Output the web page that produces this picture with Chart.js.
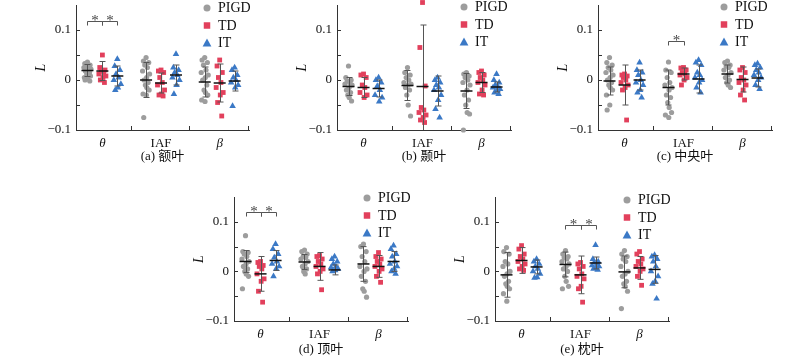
<!DOCTYPE html>
<html><head><meta charset="utf-8">
<script src="https://cdn.jsdelivr.net/npm/chart.js@4.4.1/dist/chart.umd.min.js"></script>
<style>
html,body{margin:0;padding:0;background:#fff;}
#wrap{position:relative;width:800px;height:359px;overflow:hidden;background:#fff;}
canvas{position:absolute;}
</style></head><body><div id="wrap">
<canvas id="ca"></canvas><canvas id="cb"></canvas><canvas id="cc"></canvas><canvas id="cd"></canvas><canvas id="ce"></canvas>
</div>
<script>
// ---------- DATA ----------
const bands = ['θ', 'IAF', 'β'];
const groups = ['PIGD', 'TD', 'IT'];
const captions = ['(a) 额叶', '(b) 颞叶', '(c) 中央叶', '(d) 顶叶', '(e) 枕叶'];
const yTickValues = [-0.1, 0, 0.1];
const yTickLabels = ['−0.1', '0', '0.1'];

// (a) frontal: [θ, IAF, β]
const frontal_PIGD = [
  [0.036, 0.033, 0.030, 0.028, 0.025, 0.025, 0.022, 0.020, 0.018, 0.015, 0.012, 0.010, 0.008, 0.005, 0.002, 0.000, -0.002],
  [0.045, 0.038, 0.035, 0.030, 0.025, 0.018, 0.012, 0.005, 0.000, -0.005, -0.010, -0.015, -0.020, -0.028, -0.030, -0.075],
  [0.045, 0.040, 0.035, 0.030, 0.020, 0.015, 0.010, 0.005, 0.000, -0.010, -0.020, -0.025, -0.030, -0.040, -0.043]];
const frontal_TD = [
  [0.050, 0.025, 0.020, 0.018, 0.015, 0.012, 0.008, 0.005, 0.000, -0.005],
  [0.020, 0.018, 0.015, 0.005, -0.005, -0.010, -0.020, -0.028, -0.030, -0.032],
  [0.040, 0.028, 0.015, 0.005, -0.005, -0.015, -0.025, -0.030, -0.045, -0.072]];
const frontal_IT = [
  [0.042, 0.028, 0.020, 0.012, 0.005, 0.000, -0.008, -0.015, -0.020],
  [0.052, 0.025, 0.020, 0.015, 0.010, 0.005, 0.000, -0.010, -0.028],
  [0.025, 0.020, 0.010, 0.005, 0.000, -0.005, -0.010, -0.015, -0.052]];
const frontal_mean = [[0.019, 0.000, -0.004], [0.018, -0.006, -0.006], [0.008, 0.010, -0.002]];
const frontal_sd = [[0.012, 0.035, 0.030], [0.019, 0.020, 0.038], [0.020, 0.020, 0.020]];
const frontal_sig = [[0, 0, 1, 0.119], [0, 1, 2, 0.119]];

// (b) temporal
const temporal_PIGD = [
  [0.028, 0.005, 0.000, -0.002, -0.005, -0.008, -0.010, -0.015, -0.020, -0.025, -0.030, -0.035, -0.042],
  [0.025, 0.015, 0.010, 0.005, 0.000, -0.005, -0.008, -0.010, -0.015, -0.020, -0.030, -0.050, -0.072],
  [0.015, 0.012, 0.008, 0.005, 0.000, -0.005, -0.010, -0.020, -0.030, -0.040, -0.050, -0.065, -0.068, -0.100]];
const temporal_TD = [
  [0.012, 0.010, 0.005, -0.010, -0.015, -0.025, -0.030, -0.035],
  [0.155, 0.065, -0.012, -0.055, -0.060, -0.065, -0.070, -0.075, -0.080, -0.085],
  [0.018, 0.015, 0.010, 0.005, 0.000, -0.005, -0.010, -0.020, -0.028, -0.030]];
const temporal_IT = [
  [0.005, 0.000, -0.005, -0.012, -0.020, -0.030, -0.035, -0.043],
  [0.005, 0.000, -0.005, -0.010, -0.015, -0.020, -0.030, -0.040, -0.058, -0.075],
  [0.012, 0.000, -0.005, -0.010, -0.013, -0.015, -0.018, -0.020, -0.025, -0.028]];
const temporal_mean = [[-0.013, -0.011, -0.022], [-0.015, -0.013, -0.005], [-0.017, -0.022, -0.014]];
const temporal_sd = [[0.018, 0.030, 0.035], [0.020, 0.123, 0.020], [0.017, 0.030, 0.010]];
const temporal_sig = [];

// (c) central
const central_PIGD = [
  [0.045, 0.035, 0.030, 0.025, 0.020, 0.015, 0.010, 0.005, 0.000, -0.005, -0.010, -0.015, -0.020, -0.030, -0.050, -0.060],
  [0.036, 0.020, 0.015, 0.005, -0.005, -0.010, -0.015, -0.020, -0.030, -0.035, -0.045, -0.055, -0.065, -0.070, -0.075],
  [0.038, 0.035, 0.030, 0.028, 0.025, 0.020, 0.015, 0.010, 0.005, 0.000, -0.005, -0.010, -0.015]];
const central_TD = [
  [0.012, 0.010, 0.008, 0.005, 0.000, -0.005, -0.010, -0.015, -0.020, -0.080],
  [0.025, 0.024, 0.020, 0.015, 0.012, 0.010, 0.005, 0.000, -0.010],
  [0.025, 0.020, 0.015, 0.005, 0.000, -0.005, -0.010, -0.020, -0.030, -0.040]];
const central_IT = [
  [0.035, 0.020, 0.015, 0.010, 0.000, -0.005, -0.010, -0.020, -0.025, -0.035],
  [0.040, 0.035, 0.030, 0.015, 0.010, 0.005, 0.000, -0.005, -0.015, -0.025],
  [0.033, 0.030, 0.025, 0.020, 0.015, 0.010, 0.005, 0.000, -0.010, -0.018]];
const central_mean = [[-0.002, -0.015, 0.012], [-0.010, 0.012, 0.001], [0.000, 0.002, 0.004]];
const central_sd = [[0.028, 0.035, 0.018], [0.040, 0.012, 0.025], [0.020, 0.028, 0.018]];
const central_sig = [[1, 0, 1, 0.078]];

// (d) parietal
const parietal_PIGD = [
  [0.072, 0.040, 0.038, 0.035, 0.030, 0.025, 0.020, 0.015, 0.010, 0.005, 0.000, -0.005, -0.010, -0.035],
  [0.043, 0.040, 0.035, 0.030, 0.028, 0.025, 0.020, 0.015, 0.010, 0.005, 0.000, -0.005],
  [0.055, 0.050, 0.040, 0.030, 0.020, 0.010, 0.005, 0.000, -0.010, -0.020, -0.035, -0.040, -0.052]];
const parietal_TD = [
  [0.020, 0.018, 0.012, 0.010, 0.005, -0.005, -0.015, -0.020, -0.040, -0.062],
  [0.032, 0.030, 0.025, 0.020, 0.015, 0.010, 0.005, 0.000, -0.005, -0.037],
  [0.038, 0.030, 0.025, 0.020, 0.015, 0.010, 0.005, 0.000, -0.010, -0.022]];
const parietal_IT = [
  [0.055, 0.045, 0.035, 0.028, 0.020, 0.015, 0.010, 0.005, -0.010],
  [0.030, 0.025, 0.020, 0.015, 0.010, 0.008, 0.005, 0.002, 0.000],
  [0.052, 0.045, 0.035, 0.030, 0.020, 0.015, 0.010, 0.005, 0.000, -0.005]];
const parietal_mean = [[0.020, 0.019, 0.015], [-0.005, 0.010, 0.010], [0.022, 0.003, 0.020]];
const parietal_sd = [[0.022, 0.015, 0.035], [0.035, 0.028, 0.022], [0.020, 0.010, 0.020]];
const parietal_sig = [[0, 0, 1, 0.120], [0, 1, 2, 0.120]];

// (e) occipital
const occipital_PIGD = [
  [0.048, 0.040, 0.035, 0.020, 0.015, 0.010, 0.000, -0.005, -0.010, -0.020, -0.025, -0.030, -0.035, -0.045, -0.060],
  [0.042, 0.035, 0.030, 0.028, 0.025, 0.020, 0.015, 0.010, 0.005, 0.000, -0.010, -0.020, -0.030, -0.035],
  [0.042, 0.035, 0.030, 0.025, 0.020, 0.010, 0.000, -0.005, -0.010, -0.020, -0.025, -0.030, -0.040, -0.075]];
const occipital_TD = [
  [0.052, 0.045, 0.035, 0.030, 0.025, 0.020, 0.015, 0.010, 0.005, 0.002],
  [0.018, 0.015, 0.010, 0.005, -0.005, -0.010, -0.015, -0.030, -0.035, -0.062],
  [0.040, 0.035, 0.025, 0.020, 0.015, 0.010, 0.005, 0.000, -0.010, -0.028]];
const occipital_IT = [
  [0.025, 0.020, 0.015, 0.010, 0.005, 0.000, -0.005, -0.012, -0.013],
  [0.053, 0.025, 0.020, 0.018, 0.015, 0.012, 0.010, 0.008, 0.005, 0.003],
  [0.033, 0.030, 0.025, 0.020, 0.010, 0.000, -0.010, -0.020, -0.025, -0.055]];
const occipital_mean = [[-0.007, 0.014, -0.001], [0.022, -0.007, 0.007], [0.009, 0.017, 0.004]];
const occipital_sd = [[0.045, 0.025, 0.032], [0.026, 0.038, 0.023], [0.014, 0.012, 0.028]];
const occipital_sig = [[1, 0, 1, 0.094], [1, 1, 2, 0.094]];

// ---------- STYLE / LAYOUT ----------
const FONT = '"Liberation Serif", "Times New Roman", "Noto Sans CJK SC", serif';
const COLORS = ['#9d9d9d', '#e2405c', '#3b79c6'];
const STYLES = ['circle', 'rect', 'triangle'];
const RADII = [2.6, 3.4, 3.8];
const OFF = [-0.255, 0, 0.255];
const JIT = [0, -0.045, 0.045, -0.022, 0.022, -0.06, 0.06, 0.01, -0.035, 0.035, -0.012, 0.012, 0.052, -0.052, 0.005, -0.04, 0.04];
const AXIS = '#333';

const layouts = [
  {id:'ca', left:0,   top:0,   w:265, h:170, l:76, r:249, t:5,  b:130, legDx:-42, legDy:3, cap:27},
  {id:'cb', left:265, top:0,   w:265, h:170, l:72, r:246, t:5,  b:130, legDx:-47, legDy:2, cap:27},
  {id:'cc', left:530, top:0,   w:270, h:170, l:68, r:242, t:5,  b:130, legDx:-48, legDy:2, cap:27},
  {id:'cd', left:170, top:180, w:260, h:179, l:64, r:238, t:17, b:141, legDx:-41, legDy:1, cap:29},
  {id:'ce', left:430, top:180, w:270, h:179, l:65, r:239, t:17, b:141, legDx:-42, legDy:3, cap:29}
];
const panelData = [
  {values:[frontal_PIGD, frontal_TD, frontal_IT], mean:frontal_mean, sd:frontal_sd, sig:frontal_sig},
  {values:[temporal_PIGD, temporal_TD, temporal_IT], mean:temporal_mean, sd:temporal_sd, sig:temporal_sig},
  {values:[central_PIGD, central_TD, central_IT], mean:central_mean, sd:central_sd, sig:central_sig},
  {values:[parietal_PIGD, parietal_TD, parietal_IT], mean:parietal_mean, sd:parietal_sd, sig:parietal_sig},
  {values:[occipital_PIGD, occipital_TD, occipital_IT], mean:occipital_mean, sd:occipital_sd, sig:occipital_sig}
];

function drawMarker(ctx, style, x, y, s) {
  ctx.beginPath();
  if (style === 'circle') { ctx.arc(x, y, s * 0.5, 0, Math.PI * 2); }
  else if (style === 'rect') { ctx.rect(x - s / 2, y - s / 2, s, s); }
  else { ctx.moveTo(x, y - s * 0.55); ctx.lineTo(x + s * 0.55, y + s * 0.45); ctx.lineTo(x - s * 0.55, y + s * 0.45); ctx.closePath(); }
  ctx.fill();
}

function makePanel(pi) {
  const L = layouts[pi], D = panelData[pi];
  const cv = document.getElementById(L.id);
  cv.width = L.w; cv.height = L.h;
  Object.assign(cv.style, {left: L.left + 'px', top: L.top + 'px', width: L.w + 'px', height: L.h + 'px'});
  const xH = L.h - L.b;
  const tpb = Math.max(0, xH - 7.8 - L.cap);
  const datasets = groups.map((g, gi) => {
    const pts = [];
    D.values[gi].forEach((arr, bi) => arr.forEach((v, i) => pts.push({x: bi + 1 + OFF[gi] + JIT[i % JIT.length], y: v})));
    return {label: g, data: pts, pointStyle: STYLES[gi], pointRadius: RADII[gi], pointHoverRadius: RADII[gi],
            backgroundColor: COLORS[gi], borderColor: COLORS[gi], pointBorderWidth: 0, clip: false};
  });
  const decor = {
    id: 'decor' + pi,
    afterDatasetsDraw(chart) {
      const {ctx, chartArea: ca} = chart;
      const xs = chart.scales.x, ys = chart.scales.y;
      ctx.save();
      ctx.lineWidth = 1; ctx.strokeStyle = AXIS;
      ctx.beginPath();
      [-0.05, 0, 0.05, 0.1].forEach(v => { const py = Math.round(ys.getPixelForValue(v)) + 0.5; ctx.moveTo(ca.left, py); ctx.lineTo(ca.left + 4, py); });
      [1.5, 2.5, 3.5].forEach(v => { const px = Math.round(xs.getPixelForValue(v)) - 0.5; ctx.moveTo(px, ca.bottom); ctx.lineTo(px, ca.bottom - 4); });
      ctx.stroke();
      ctx.strokeStyle = '#555'; ctx.lineWidth = 1;
      for (let gi = 0; gi < 3; gi++) for (let bi = 0; bi < 3; bi++) {
        const cx = Math.round(xs.getPixelForValue(bi + 1 + OFF[gi])) + 0.5;
        const m = D.mean[gi][bi], s = D.sd[gi][bi];
        const hi = Math.min(m + s, 0.15), lo = Math.max(m - s, -0.1);
        const pt = ys.getPixelForValue(hi), pb = ys.getPixelForValue(lo);
        ctx.beginPath();
        ctx.moveTo(cx, pt); ctx.lineTo(cx, pb);
        if (m + s <= 0.15) { ctx.moveTo(cx - 3, pt); ctx.lineTo(cx + 3, pt); }
        if (m - s >= -0.1) { ctx.moveTo(cx - 3, pb); ctx.lineTo(cx + 3, pb); }
        ctx.stroke();
      }
      ctx.strokeStyle = '#111'; ctx.lineWidth = 1.5;
      for (let gi = 0; gi < 3; gi++) for (let bi = 0; bi < 3; bi++) {
        const cx = xs.getPixelForValue(bi + 1 + OFF[gi]);
        const py = ys.getPixelForValue(D.mean[gi][bi]);
        ctx.beginPath(); ctx.moveTo(cx - 6, py); ctx.lineTo(cx + 6, py); ctx.stroke();
      }
      ctx.strokeStyle = '#555'; ctx.lineWidth = 1; ctx.fillStyle = '#444';
      ctx.font = '15px ' + FONT; ctx.textAlign = 'center'; ctx.textBaseline = 'alphabetic';
      D.sig.forEach(([bi, g1, g2, yv]) => {
        const x1 = Math.round(xs.getPixelForValue(bi + 1 + OFF[g1])) + 0.5;
        const x2 = Math.round(xs.getPixelForValue(bi + 1 + OFF[g2])) + 0.5;
        const py = Math.round(ys.getPixelForValue(yv)) + 0.5;
        ctx.beginPath();
        ctx.moveTo(x1, py + 4); ctx.lineTo(x1, py); ctx.lineTo(x2, py); ctx.lineTo(x2, py + 4);
        ctx.stroke();
        ctx.fillText('*', (x1 + x2) / 2, py + 3);
      });
      ctx.textAlign = 'left'; ctx.textBaseline = 'middle'; ctx.font = '14px ' + FONT;
      const lx = ca.right + L.legDx;
      groups.forEach((g, gi) => {
        const ly = ca.top + L.legDy + gi * 17.5;
        ctx.fillStyle = COLORS[gi];
        drawMarker(ctx, STYLES[gi], lx, ly, gi === 0 ? 7 : (gi === 1 ? 6.5 : 8));
        ctx.fillStyle = '#111';
        ctx.fillText(g, lx + 11, ly + 0.5);
      });
      ctx.restore();
    }
  };
  new Chart(cv, {
    type: 'scatter',
    data: {datasets},
    options: {
      responsive: false, animation: false, devicePixelRatio: 1,
      layout: {padding: {left: L.l - 43, right: L.w - L.r, top: L.t, bottom: 0}},
      plugins: {legend: {display: false}, tooltip: {enabled: false}},
      events: [],
      scales: {
        x: {
          type: 'linear', min: 0.55, max: 3.5,
          grid: {display: false, drawTicks: false},
          border: {display: true, color: AXIS, width: 1},
          afterBuildTicks: s => { s.ticks = bands.map((b, i) => ({value: i + 1})); },
          afterFit: s => { s.height = xH; s.paddingLeft = 0; s.paddingRight = 0; },
          ticks: {
            padding: 6, color: '#111', autoSkip: false, maxRotation: 0,
            font: c => ({family: FONT, size: 13, style: (c.tick && c.tick.value === 2) ? 'normal' : 'italic'}),
            callback: v => bands[Math.round(v) - 1]
          },
          title: {display: true, text: captions[pi], color: '#111', font: {family: FONT, size: 13}, padding: {top: 0, bottom: tpb}}
        },
        y: {
          type: 'linear', min: -0.1, max: 0.15,
          grid: {display: false, drawTicks: false},
          border: {display: true, color: AXIS, width: 1},
          afterBuildTicks: s => { s.ticks = yTickValues.map(v => ({value: v})); },
          afterFit: s => { s.width = 43; s.paddingTop = 0; s.paddingBottom = 0; },
          ticks: {
            padding: 5, color: '#111', font: {family: FONT, size: 13},
            callback: v => { const i = yTickValues.findIndex(t => Math.abs(t - v) < 1e-9); return i >= 0 ? yTickLabels[i] : ''; }
          },
          title: {display: true, text: 'L', color: '#111', font: {family: FONT, size: 14, style: 'italic'}, padding: {top: 0, bottom: 0}}
        }
      }
    },
    plugins: [decor]
  });
}
for (let i = 0; i < 5; i++) makePanel(i);
</script></body></html>
